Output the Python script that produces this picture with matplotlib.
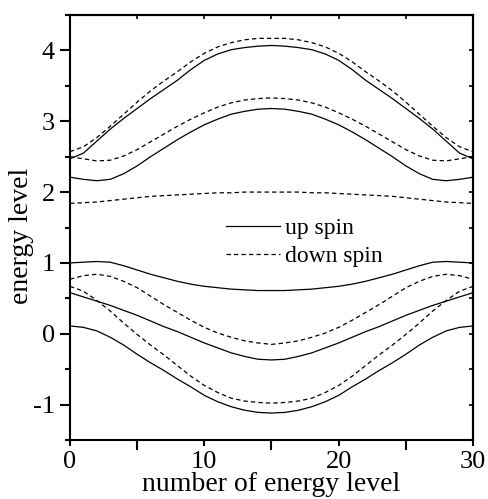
import matplotlib
matplotlib.use('Agg')
import matplotlib.pyplot as plt
from matplotlib.ticker import MultipleLocator

level = list(range(31))

up_1 = [2.47, 2.55, 2.72, 2.89, 3.04, 3.18, 3.32, 3.45, 3.58, 3.73, 3.86, 3.95, 4.01, 4.04, 4.06, 4.07,
        4.06, 4.04, 4.01, 3.95, 3.86, 3.73, 3.58, 3.45, 3.32, 3.18, 3.04, 2.89, 2.72, 2.55, 2.47]
up_2 = [2.21, 2.18, 2.16, 2.18, 2.26, 2.37, 2.50, 2.62, 2.74, 2.85, 2.95, 3.03, 3.10, 3.14, 3.17, 3.18,
        3.17, 3.14, 3.10, 3.03, 2.95, 2.85, 2.74, 2.62, 2.50, 2.37, 2.26, 2.18, 2.16, 2.18, 2.21]
up_3 = [1.00, 1.01, 1.02, 1.01, 0.96, 0.90, 0.84, 0.79, 0.74, 0.70, 0.67, 0.65, 0.63, 0.62, 0.61, 0.61,
        0.61, 0.62, 0.63, 0.65, 0.67, 0.70, 0.74, 0.79, 0.84, 0.90, 0.96, 1.01, 1.02, 1.01, 1.00]
up_4 = [0.58, 0.52, 0.46, 0.40, 0.33, 0.26, 0.18, 0.10, 0.03, -0.05, -0.13, -0.20, -0.27, -0.32, -0.36, -0.37,
        -0.36, -0.32, -0.27, -0.20, -0.13, -0.05, 0.03, 0.10, 0.18, 0.26, 0.33, 0.40, 0.46, 0.52, 0.58]
up_5 = [0.11, 0.09, 0.04, -0.05, -0.16, -0.29, -0.41, -0.52, -0.64, -0.75, -0.87, -0.96, -1.03, -1.08, -1.11, -1.12,
        -1.11, -1.08, -1.03, -0.96, -0.87, -0.75, -0.64, -0.52, -0.41, -0.29, -0.16, -0.05, 0.04, 0.09, 0.11]

down_1 = [2.57, 2.64, 2.77, 2.93, 3.10, 3.27, 3.43, 3.57, 3.70, 3.84, 3.96, 4.05, 4.11, 4.15, 4.17, 4.17,
          4.17, 4.15, 4.11, 4.05, 3.96, 3.84, 3.70, 3.57, 3.43, 3.27, 3.10, 2.93, 2.77, 2.64, 2.57]
down_2 = [2.50, 2.47, 2.44, 2.45, 2.51, 2.60, 2.71, 2.82, 2.93, 3.03, 3.12, 3.20, 3.26, 3.30, 3.32, 3.33,
          3.32, 3.30, 3.26, 3.20, 3.12, 3.03, 2.93, 2.82, 2.71, 2.60, 2.51, 2.45, 2.44, 2.47, 2.50]
down_3 = [1.84, 1.85, 1.86, 1.88, 1.90, 1.92, 1.94, 1.95, 1.96, 1.97, 1.98, 1.99, 1.99, 2.00, 2.00, 2.00,
          2.00, 2.00, 1.99, 1.99, 1.98, 1.97, 1.96, 1.95, 1.94, 1.92, 1.90, 1.88, 1.86, 1.85, 1.84]
down_4 = [0.77, 0.82, 0.84, 0.81, 0.74, 0.65, 0.53, 0.41, 0.30, 0.19, 0.09, 0.01, -0.05, -0.10, -0.13, -0.15,
          -0.13, -0.10, -0.05, 0.01, 0.09, 0.19, 0.30, 0.41, 0.53, 0.65, 0.74, 0.81, 0.84, 0.82, 0.77]
down_5 = [0.67, 0.60, 0.47, 0.32, 0.15, -0.01, -0.16, -0.30, -0.45, -0.60, -0.73, -0.83, -0.91, -0.95, -0.97, -0.98,
          -0.97, -0.95, -0.91, -0.83, -0.73, -0.60, -0.45, -0.30, -0.16, -0.01, 0.15, 0.32, 0.47, 0.60, 0.67]

up_series = [up_1, up_2, up_3, up_4, up_5]
down_series = [down_1, down_2, down_3, down_4, down_5]

x_ticks = [0, 10, 20, 30]
y_ticks = [-1, 0, 1, 2, 3, 4]
x_label = "number of energy level"
y_label = "energy level"
legend_labels = ["up spin", "down spin"]

plt.rcParams['font.family'] = ['Liberation Serif', 'DejaVu Serif']

fig = plt.figure(figsize=(4.89, 4.99), dpi=100)
ax = fig.add_axes([70/489, 59/499, 403/489, 425/499])

for i, s in enumerate(up_series):
    ax.plot(level, s, color='black', lw=0.9, ls='-',
            label=legend_labels[0] if i == 0 else None)
for i, s in enumerate(down_series):
    ax.plot(level, s, color='black', lw=0.9, ls=(0, (3.5, 2.5)),
            label=legend_labels[1] if i == 0 else None)

ax.set_xlim(0, 30)
ax.set_ylim(-1.5, 4.5)
ax.set_xticks(x_ticks)
ax.set_yticks(y_ticks)
ax.set_yticklabels([str(v) for v in y_ticks])
ax.xaxis.set_minor_locator(MultipleLocator(5))
ax.yaxis.set_minor_locator(MultipleLocator(0.5))

for sp in ax.spines.values():
    sp.set_linewidth(1.5)

ax.tick_params(axis='x', which='major', direction='out', length=4, width=1.5,
               labelsize=19, pad=4, top=False)
ax.tick_params(axis='x', which='minor', direction='out', length=7.5, width=1.5, top=False)
ax.tick_params(axis='y', which='major', direction='out', length=7, width=1.5,
               labelsize=19, pad=4, right=False)
ax.tick_params(axis='y', which='minor', direction='out', length=3.8, width=1.5, right=False)

# inward ticks on top and right
axt = ax.secondary_xaxis('top')
axt.set_xticks([0, 5, 10, 15, 20, 25, 30])
axt.tick_params(direction='in', length=3, width=1.2, labeltop=False)
axt.spines['top'].set_linewidth(1.5)
axr = ax.secondary_yaxis('right')
axr.set_yticks([-1.5, -1, -0.5, 0, 0.5, 1, 1.5, 2, 2.5, 3, 3.5, 4, 4.5])
axr.tick_params(direction='in', length=3, width=1.2, labelright=False)
axr.spines['right'].set_linewidth(1.5)

ax.set_xlabel(x_label, fontsize=20, labelpad=-1)
ax.set_ylabel(y_label, fontsize=20)
ax.yaxis.set_label_coords(-0.09, 0.48)

ax.legend(loc='upper left', bbox_to_anchor=(0.387, 0.523), frameon=False,
          fontsize=17, handlelength=2.3, handletextpad=0.2, labelspacing=0.28,
          borderpad=0, borderaxespad=0)

fig.savefig('out.png', dpi=100)
